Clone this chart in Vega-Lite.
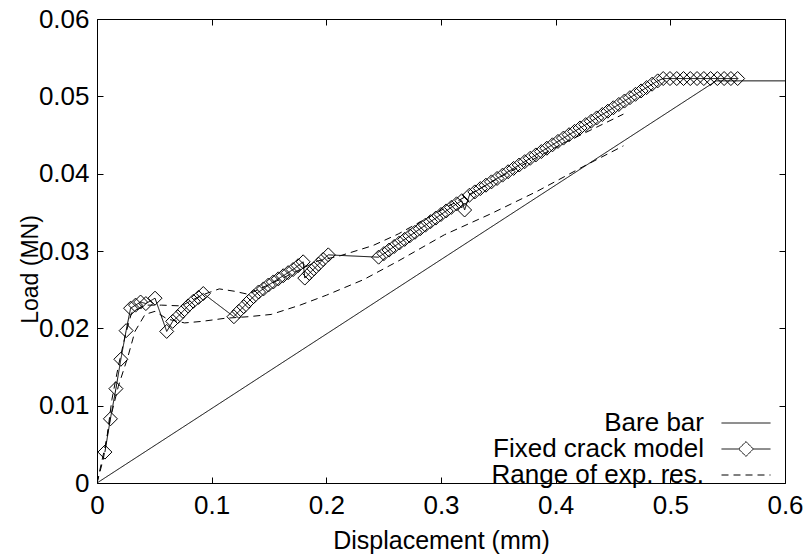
{
  "$schema": "https://vega.github.io/schema/vega-lite/v6.json",
  "width": 688,
  "height": 464,
  "autosize": {"type": "none"},
  "padding": {"left": 97, "top": 19, "right": 22, "bottom": 71},
  "background": "white",
  "config": {
    "view": {"stroke": "black", "strokeWidth": 1},
    "font": "Liberation Sans",
    "axis": {
      "domain": false,
      "grid": false,
      "ticks": true,
      "tickColor": "black",
      "tickSize": -6,
      "tickWidth": 1,
      "labelFont": "Liberation Sans",
      "labelFontSize": 26,
      "labelColor": "black",
      "labelFlush": false,
      "labelOverlap": false,
      "titleFont": "Liberation Sans",
      "titleFontWeight": "normal",
      "titleColor": "black"
    }
  },
  "data": {
    "values": [
      {"curve": "bare", "series": "Bare bar", "disp": 0, "load": 0},
      {"curve": "bare", "series": "Bare bar", "disp": 0.54, "load": 0.052},
      {"curve": "bare", "series": "Bare bar", "disp": 0.6, "load": 0.052},

      {"curve": "fixed", "series": "Fixed crack model", "disp": 0.0069, "load": 0.0040},
      {"curve": "fixed", "series": "Fixed crack model", "disp": 0.0117, "load": 0.0083},
      {"curve": "fixed", "series": "Fixed crack model", "disp": 0.0165, "load": 0.0122},
      {"curve": "fixed", "series": "Fixed crack model", "disp": 0.0208, "load": 0.0160},
      {"curve": "fixed", "series": "Fixed crack model", "disp": 0.0254, "load": 0.0197},
      {"curve": "fixed", "series": "Fixed crack model", "disp": 0.0293, "load": 0.0226},
      {"curve": "fixed", "series": "Fixed crack model", "disp": 0.0336, "load": 0.0230},
      {"curve": "fixed", "series": "Fixed crack model", "disp": 0.0380, "load": 0.0234},
      {"curve": "fixed", "series": "Fixed crack model", "disp": 0.0426, "load": 0.0232},
      {"curve": "fixed", "series": "Fixed crack model", "disp": 0.0506, "load": 0.0239},
      {"curve": "fixed", "series": "Fixed crack model", "disp": 0.0608, "load": 0.0196},
      {"curve": "fixed", "series": "Fixed crack model", "disp": 0.0660, "load": 0.0209},
      {"curve": "fixed", "series": "Fixed crack model", "disp": 0.0704, "load": 0.0215},
      {"curve": "fixed", "series": "Fixed crack model", "disp": 0.0749, "load": 0.0222},
      {"curve": "fixed", "series": "Fixed crack model", "disp": 0.0794, "load": 0.0229},
      {"curve": "fixed", "series": "Fixed crack model", "disp": 0.0840, "load": 0.0235},
      {"curve": "fixed", "series": "Fixed crack model", "disp": 0.0885, "load": 0.0240},
      {"curve": "fixed", "series": "Fixed crack model", "disp": 0.0927, "load": 0.0245},
      {"curve": "fixed", "series": "Fixed crack model", "disp": 0.1194, "load": 0.0215},
      {"curve": "fixed", "series": "Fixed crack model", "disp": 0.1237, "load": 0.0222},
      {"curve": "fixed", "series": "Fixed crack model", "disp": 0.1280, "load": 0.0228},
      {"curve": "fixed", "series": "Fixed crack model", "disp": 0.1323, "load": 0.0235},
      {"curve": "fixed", "series": "Fixed crack model", "disp": 0.1366, "load": 0.0241},
      {"curve": "fixed", "series": "Fixed crack model", "disp": 0.1409, "load": 0.0247},
      {"curve": "fixed", "series": "Fixed crack model", "disp": 0.1452, "load": 0.0251},
      {"curve": "fixed", "series": "Fixed crack model", "disp": 0.1495, "load": 0.0256},
      {"curve": "fixed", "series": "Fixed crack model", "disp": 0.1538, "load": 0.0260},
      {"curve": "fixed", "series": "Fixed crack model", "disp": 0.1581, "load": 0.0264},
      {"curve": "fixed", "series": "Fixed crack model", "disp": 0.1624, "load": 0.0268},
      {"curve": "fixed", "series": "Fixed crack model", "disp": 0.1667, "load": 0.0272},
      {"curve": "fixed", "series": "Fixed crack model", "disp": 0.1710, "load": 0.0276},
      {"curve": "fixed", "series": "Fixed crack model", "disp": 0.1754, "load": 0.0281},
      {"curve": "fixed", "series": "Fixed crack model", "disp": 0.1798, "load": 0.0286},
      {"curve": "fixed", "series": "Fixed crack model", "disp": 0.1812, "load": 0.0265},
      {"curve": "fixed", "series": "Fixed crack model", "disp": 0.1852, "load": 0.0271},
      {"curve": "fixed", "series": "Fixed crack model", "disp": 0.1892, "load": 0.0277},
      {"curve": "fixed", "series": "Fixed crack model", "disp": 0.1932, "load": 0.0283},
      {"curve": "fixed", "series": "Fixed crack model", "disp": 0.1972, "load": 0.0289},
      {"curve": "fixed", "series": "Fixed crack model", "disp": 0.2017, "load": 0.0295},
      {"curve": "fixed", "series": "Fixed crack model", "disp": 0.2456, "load": 0.0292},
      {"curve": "fixed", "series": "Fixed crack model", "disp": 0.2502, "load": 0.02966},
      {"curve": "fixed", "series": "Fixed crack model", "disp": 0.2547, "load": 0.03012},
      {"curve": "fixed", "series": "Fixed crack model", "disp": 0.2592, "load": 0.03058},
      {"curve": "fixed", "series": "Fixed crack model", "disp": 0.2637, "load": 0.03104},
      {"curve": "fixed", "series": "Fixed crack model", "disp": 0.2683, "load": 0.0315},
      {"curve": "fixed", "series": "Fixed crack model", "disp": 0.2728, "load": 0.03196},
      {"curve": "fixed", "series": "Fixed crack model", "disp": 0.2773, "load": 0.03242},
      {"curve": "fixed", "series": "Fixed crack model", "disp": 0.2819, "load": 0.03288},
      {"curve": "fixed", "series": "Fixed crack model", "disp": 0.2864, "load": 0.03334},
      {"curve": "fixed", "series": "Fixed crack model", "disp": 0.2909, "load": 0.0338},
      {"curve": "fixed", "series": "Fixed crack model", "disp": 0.2955, "load": 0.03426},
      {"curve": "fixed", "series": "Fixed crack model", "disp": 0.3000, "load": 0.03472},
      {"curve": "fixed", "series": "Fixed crack model", "disp": 0.3045, "load": 0.03518},
      {"curve": "fixed", "series": "Fixed crack model", "disp": 0.3090, "load": 0.03564},
      {"curve": "fixed", "series": "Fixed crack model", "disp": 0.3136, "load": 0.0361},
      {"curve": "fixed", "series": "Fixed crack model", "disp": 0.3181, "load": 0.0365},
      {"curve": "fixed", "series": "Fixed crack model", "disp": 0.3206, "load": 0.0353},
      {"curve": "fixed", "series": "Fixed crack model", "disp": 0.3247, "load": 0.0372},
      {"curve": "fixed", "series": "Fixed crack model", "disp": 0.3295, "load": 0.03764},
      {"curve": "fixed", "series": "Fixed crack model", "disp": 0.3343, "load": 0.03807},
      {"curve": "fixed", "series": "Fixed crack model", "disp": 0.3392, "load": 0.03851},
      {"curve": "fixed", "series": "Fixed crack model", "disp": 0.3440, "load": 0.03894},
      {"curve": "fixed", "series": "Fixed crack model", "disp": 0.3489, "load": 0.03938},
      {"curve": "fixed", "series": "Fixed crack model", "disp": 0.3537, "load": 0.03981},
      {"curve": "fixed", "series": "Fixed crack model", "disp": 0.3585, "load": 0.04025},
      {"curve": "fixed", "series": "Fixed crack model", "disp": 0.3633, "load": 0.04068},
      {"curve": "fixed", "series": "Fixed crack model", "disp": 0.3682, "load": 0.04112},
      {"curve": "fixed", "series": "Fixed crack model", "disp": 0.3730, "load": 0.04155},
      {"curve": "fixed", "series": "Fixed crack model", "disp": 0.3778, "load": 0.04199},
      {"curve": "fixed", "series": "Fixed crack model", "disp": 0.3827, "load": 0.04242},
      {"curve": "fixed", "series": "Fixed crack model", "disp": 0.3875, "load": 0.04286},
      {"curve": "fixed", "series": "Fixed crack model", "disp": 0.3923, "load": 0.04329},
      {"curve": "fixed", "series": "Fixed crack model", "disp": 0.3972, "load": 0.04373},
      {"curve": "fixed", "series": "Fixed crack model", "disp": 0.4020, "load": 0.04417},
      {"curve": "fixed", "series": "Fixed crack model", "disp": 0.4068, "load": 0.0446},
      {"curve": "fixed", "series": "Fixed crack model", "disp": 0.4117, "load": 0.04504},
      {"curve": "fixed", "series": "Fixed crack model", "disp": 0.4165, "load": 0.04547},
      {"curve": "fixed", "series": "Fixed crack model", "disp": 0.4213, "load": 0.04591},
      {"curve": "fixed", "series": "Fixed crack model", "disp": 0.4262, "load": 0.04634},
      {"curve": "fixed", "series": "Fixed crack model", "disp": 0.4310, "load": 0.04678},
      {"curve": "fixed", "series": "Fixed crack model", "disp": 0.4358, "load": 0.04721},
      {"curve": "fixed", "series": "Fixed crack model", "disp": 0.4407, "load": 0.04765},
      {"curve": "fixed", "series": "Fixed crack model", "disp": 0.4455, "load": 0.04808},
      {"curve": "fixed", "series": "Fixed crack model", "disp": 0.4503, "load": 0.04852},
      {"curve": "fixed", "series": "Fixed crack model", "disp": 0.4551, "load": 0.04895},
      {"curve": "fixed", "series": "Fixed crack model", "disp": 0.4600, "load": 0.04939},
      {"curve": "fixed", "series": "Fixed crack model", "disp": 0.4648, "load": 0.04983},
      {"curve": "fixed", "series": "Fixed crack model", "disp": 0.4696, "load": 0.05026},
      {"curve": "fixed", "series": "Fixed crack model", "disp": 0.4745, "load": 0.0507},
      {"curve": "fixed", "series": "Fixed crack model", "disp": 0.4793, "load": 0.05113},
      {"curve": "fixed", "series": "Fixed crack model", "disp": 0.4841, "load": 0.05157},
      {"curve": "fixed", "series": "Fixed crack model", "disp": 0.4890, "load": 0.052},
      {"curve": "fixed", "series": "Fixed crack model", "disp": 0.4938, "load": 0.0523},
      {"curve": "fixed", "series": "Fixed crack model", "disp": 0.4997, "load": 0.0523},
      {"curve": "fixed", "series": "Fixed crack model", "disp": 0.5056, "load": 0.0523},
      {"curve": "fixed", "series": "Fixed crack model", "disp": 0.5115, "load": 0.0523},
      {"curve": "fixed", "series": "Fixed crack model", "disp": 0.5174, "load": 0.0523},
      {"curve": "fixed", "series": "Fixed crack model", "disp": 0.5233, "load": 0.0523},
      {"curve": "fixed", "series": "Fixed crack model", "disp": 0.5292, "load": 0.0523},
      {"curve": "fixed", "series": "Fixed crack model", "disp": 0.5351, "load": 0.0523},
      {"curve": "fixed", "series": "Fixed crack model", "disp": 0.5410, "load": 0.0523},
      {"curve": "fixed", "series": "Fixed crack model", "disp": 0.5469, "load": 0.0523},
      {"curve": "fixed", "series": "Fixed crack model", "disp": 0.5528, "load": 0.0523},
      {"curve": "fixed", "series": "Fixed crack model", "disp": 0.5587, "load": 0.0523},

      {"curve": "lower", "series": "Range of exp. res.", "disp": 0, "load": 0},
      {"curve": "lower", "series": "Range of exp. res.", "disp": 0.0055, "load": 0.0031},
      {"curve": "lower", "series": "Range of exp. res.", "disp": 0.0114, "load": 0.0082},
      {"curve": "lower", "series": "Range of exp. res.", "disp": 0.0186, "load": 0.0125},
      {"curve": "lower", "series": "Range of exp. res.", "disp": 0.0271, "load": 0.0164},
      {"curve": "lower", "series": "Range of exp. res.", "disp": 0.0331, "load": 0.0196},
      {"curve": "lower", "series": "Range of exp. res.", "disp": 0.0419, "load": 0.0218},
      {"curve": "lower", "series": "Range of exp. res.", "disp": 0.0506, "load": 0.0222},
      {"curve": "lower", "series": "Range of exp. res.", "disp": 0.0613, "load": 0.0212},
      {"curve": "lower", "series": "Range of exp. res.", "disp": 0.0764, "load": 0.0207},
      {"curve": "lower", "series": "Range of exp. res.", "disp": 0.0915, "load": 0.0209},
      {"curve": "lower", "series": "Range of exp. res.", "disp": 0.1117, "load": 0.0213},
      {"curve": "lower", "series": "Range of exp. res.", "disp": 0.1318, "load": 0.0215},
      {"curve": "lower", "series": "Range of exp. res.", "disp": 0.1520, "load": 0.0218},
      {"curve": "lower", "series": "Range of exp. res.", "disp": 0.1771, "load": 0.0230},
      {"curve": "lower", "series": "Range of exp. res.", "disp": 0.2003, "load": 0.0243},
      {"curve": "lower", "series": "Range of exp. res.", "disp": 0.2325, "load": 0.0263},
      {"curve": "lower", "series": "Range of exp. res.", "disp": 0.2627, "load": 0.0287},
      {"curve": "lower", "series": "Range of exp. res.", "disp": 0.3030, "load": 0.0321},
      {"curve": "lower", "series": "Range of exp. res.", "disp": 0.3433, "load": 0.0348},
      {"curve": "lower", "series": "Range of exp. res.", "disp": 0.3836, "load": 0.0377},
      {"curve": "lower", "series": "Range of exp. res.", "disp": 0.4238, "load": 0.0409},
      {"curve": "lower", "series": "Range of exp. res.", "disp": 0.4591, "load": 0.0436},

      {"curve": "upper", "series": "Range of exp. res.", "disp": 0, "load": 0},
      {"curve": "upper", "series": "Range of exp. res.", "disp": 0.0085, "load": 0.0057},
      {"curve": "upper", "series": "Range of exp. res.", "disp": 0.0130, "load": 0.0108},
      {"curve": "upper", "series": "Range of exp. res.", "disp": 0.0186, "load": 0.0151},
      {"curve": "upper", "series": "Range of exp. res.", "disp": 0.0245, "load": 0.0190},
      {"curve": "upper", "series": "Range of exp. res.", "disp": 0.0301, "load": 0.0220},
      {"curve": "upper", "series": "Range of exp. res.", "disp": 0.0419, "load": 0.0230},
      {"curve": "upper", "series": "Range of exp. res.", "disp": 0.0563, "load": 0.0230},
      {"curve": "upper", "series": "Range of exp. res.", "disp": 0.0734, "load": 0.0229},
      {"curve": "upper", "series": "Range of exp. res.", "disp": 0.0915, "load": 0.0243},
      {"curve": "upper", "series": "Range of exp. res.", "disp": 0.1066, "load": 0.0251},
      {"curve": "upper", "series": "Range of exp. res.", "disp": 0.1197, "load": 0.0248},
      {"curve": "upper", "series": "Range of exp. res.", "disp": 0.1318, "load": 0.0244},
      {"curve": "upper", "series": "Range of exp. res.", "disp": 0.1620, "load": 0.0265},
      {"curve": "upper", "series": "Range of exp. res.", "disp": 0.1922, "load": 0.0287},
      {"curve": "upper", "series": "Range of exp. res.", "disp": 0.2124, "load": 0.0294},
      {"curve": "upper", "series": "Range of exp. res.", "disp": 0.2406, "load": 0.0307},
      {"curve": "upper", "series": "Range of exp. res.", "disp": 0.2627, "load": 0.0322},
      {"curve": "upper", "series": "Range of exp. res.", "disp": 0.3030, "load": 0.0355},
      {"curve": "upper", "series": "Range of exp. res.", "disp": 0.3534, "load": 0.0397},
      {"curve": "upper", "series": "Range of exp. res.", "disp": 0.4037, "load": 0.0437},
      {"curve": "upper", "series": "Range of exp. res.", "disp": 0.4591, "load": 0.0477}
    ]
  },
  "layer": [
    {
      "mark": {"type": "line", "color": "black", "strokeWidth": 1, "clip": true},
      "encoding": {
        "x": {
          "field": "disp", "type": "quantitative",
          "scale": {"domain": [0, 0.6], "nice": false, "zero": false},
          "axis": {"orient": "bottom", "values": [0, 0.1, 0.2, 0.3, 0.4, 0.5, 0.6], "format": "~g",
                   "labelPadding": 15,
                   "title": "Displacement (mm)", "titleFontSize": 25, "titleBaseline": "middle", "titleY": 57}
        },
        "y": {
          "field": "load", "type": "quantitative",
          "scale": {"domain": [0, 0.06], "nice": false, "zero": false},
          "axis": {"orient": "left", "values": [0, 0.01, 0.02, 0.03, 0.04, 0.05, 0.06], "format": "~g",
                   "labelPadding": 14,
                   "title": "Load (MN)", "titleFontSize": 23, "titleAngle": -90, "titleBaseline": "middle", "titleAlign": "center",
                   "titleX": -67, "titleY": 250}
        },
        "detail": {"field": "curve", "type": "nominal"},
        "strokeDash": {
          "field": "series", "type": "nominal",
          "scale": {"domain": ["Bare bar", "Fixed crack model", "Range of exp. res."], "range": [[1, 0], [1, 0], [7, 5]]},
          "legend": {
            "orient": "none", "legendX": 636, "legendY": 391,
            "title": null, "padding": 0, "rowPadding": -5,
            "symbolSize": 100, "symbolStrokeWidth": 1, "symbolStrokeColor": "black", "symbolFillColor": "transparent",
            "labelFont": "Liberation Sans", "labelFontSize": 26, "labelColor": "black", "labelLimit": 400,
            "encode": {
              "symbols": {"update": {
                "shape": {"signal": "datum.value === 'Fixed crack model' ? 'M-4.9,0H-1.47M1.47,0H4.9M-1.47,0L0,-1.47L1.47,0L0,1.47Z' : 'M-4.9,0H4.9'"},
                "fill": {"value": "transparent"},
                "stroke": {"value": "black"},
                "strokeWidth": {"value": 1}
              }},
              "labels": {"update": {"x": {"value": -29}, "align": {"value": "right"}}}
            }
          }
        }
      }
    },
    {
      "transform": [{"filter": "datum.curve === 'fixed'"}],
      "mark": {"type": "point", "shape": "diamond", "filled": false, "stroke": "black", "strokeWidth": 1, "size": 196, "opacity": 1},
      "encoding": {
        "x": {"field": "disp", "type": "quantitative",
              "axis": {"orient": "top", "values": [0, 0.1, 0.2, 0.3, 0.4, 0.5, 0.6], "labels": false, "title": null}},
        "y": {"field": "load", "type": "quantitative",
              "axis": {"orient": "right", "values": [0, 0.01, 0.02, 0.03, 0.04, 0.05, 0.06], "labels": false, "title": null}}
      }
    }
  ],
  "resolve": {"axis": {"x": "independent", "y": "independent"}}
}
